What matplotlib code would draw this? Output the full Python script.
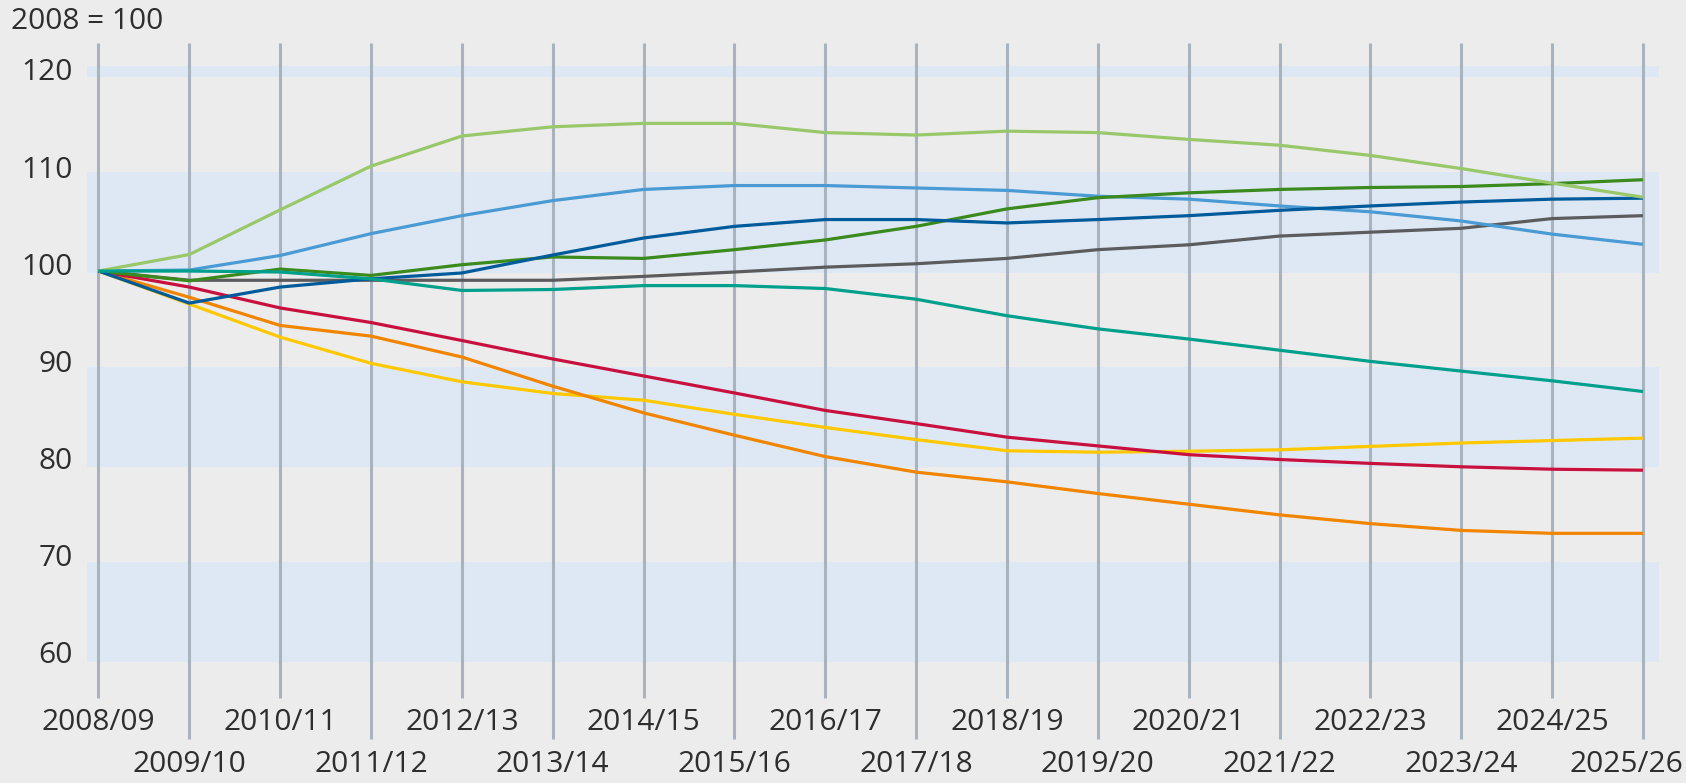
import matplotlib
matplotlib.use("Agg")
import matplotlib.pyplot as plt

years = ["2008/09", "2009/10", "2010/11", "2011/12", "2012/13", "2013/14", "2014/15",
         "2015/16", "2016/17", "2017/18", "2018/19", "2019/20", "2020/21", "2021/22",
         "2022/23", "2023/24", "2024/25", "2025/26"]
y_ticks = [60, 70, 80, 90, 100, 110, 120]
band_ranges = [(59.8, 70.1), (79.8, 90.1), (99.8, 110.2), (120.0, 121.1)]

light_green = [100, 101.7, 106.3, 110.8, 113.9, 114.85, 115.2, 115.2, 114.25, 114.0,
               114.4, 114.25, 113.55, 112.95, 111.9, 110.55, 109.05, 107.6]
light_blue = [100, 100.1, 101.6, 103.85, 105.7, 107.25, 108.4, 108.8, 108.8, 108.55,
              108.3, 107.7, 107.4, 106.7, 106.1, 105.15, 103.8, 102.75]
dark_blue = [100, 96.7, 98.35, 99.2, 99.8, 101.65, 103.4, 104.6, 105.3, 105.3,
             104.95, 105.3, 105.7, 106.25, 106.7, 107.1, 107.4, 107.5]
dark_green = [100, 99.0, 100.2, 99.55, 100.65, 101.45, 101.3, 102.2, 103.2, 104.6,
              106.4, 107.55, 108.05, 108.4, 108.6, 108.7, 109.0, 109.4]
gray = [100, 99.05, 99.05, 99.05, 99.05, 99.05, 99.45, 99.9, 100.4, 100.75,
        101.3, 102.2, 102.7, 103.6, 104.0, 104.4, 105.4, 105.7]
teal = [100, 100.0, 99.9, 99.2, 98.0, 98.1, 98.5, 98.5, 98.2, 97.1,
        95.4, 94.05, 93.0, 91.85, 90.7, 89.7, 88.7, 87.6]
crimson = [100, 98.35, 96.2, 94.7, 92.85, 90.95, 89.2, 87.45, 85.65, 84.3,
           82.9, 82.0, 81.1, 80.6, 80.2, 79.85, 79.6, 79.5]
orange = [100, 97.3, 94.4, 93.3, 91.15, 88.15, 85.4, 83.1, 80.9, 79.3,
          78.3, 77.1, 76.0, 74.9, 74.0, 73.3, 73.0, 73.0]
yellow = [100, 96.6, 93.2, 90.5, 88.6, 87.4, 86.7, 85.25, 83.9, 82.65,
          81.5, 81.35, 81.45, 81.6, 81.95, 82.3, 82.55, 82.8]

series = [
    (gray, "#5c5c5e"),
    (yellow, "#ffc800"),
    (orange, "#f28500"),
    (crimson, "#c8103f"),
    (light_blue, "#4a9ad4"),
    (dark_green, "#3b8a1e"),
    (dark_blue, "#005b9b"),
    (light_green, "#98c86a"),
    (teal, "#00a08c"),
]

plt.rcParams['font.family'] = ['Open Sans', 'DejaVu Sans']
text_color = "#2e2e2e"
fs = 21.5

fig = plt.figure(figsize=(16.86, 7.83), dpi=100)
fig.patch.set_facecolor("#ececec")
ax = fig.add_axes([0, 0, 1, 1])
ax.set_facecolor("#ececec")
ax.set_xlim(-1.084, 17.474)
ax.set_ylim(47.3, 127.9)
ax.axis("off")

x = list(range(len(years)))

for lo, hi in band_ranges:
    ax.fill_between([-0.125, 17.18], [lo, lo], [hi, hi], color="#dee8f4", lw=0, zorder=0)

for i in x:
    bottom = 56.1 if i % 2 == 0 else 51.8
    ax.vlines(i, bottom, 123.5, color="#a8b3bd", lw=2.2, zorder=1)

for vals, col in series:
    ax.plot(x, vals, color=col, lw=2.3, solid_joinstyle="round",
            solid_capstyle="butt", zorder=3)

last = len(years) - 1
for i, lab in enumerate(years):
    yy = 53.55 if i % 2 == 0 else 49.2
    if i == last:
        ax.text(17.44, yy, lab, ha="right", va="center", fontsize=fs, color=text_color)
    else:
        ax.text(i, yy, lab, ha="center", va="center", fontsize=fs, color=text_color)

for t in y_ticks:
    ax.text(-0.28, t + 0.4, str(t), ha="right", va="center", fontsize=fs, color=text_color)

ax.text(-0.96, 125.7, "2008 = 100", ha="left", va="center", fontsize=fs, color=text_color)

fig.savefig("out.png", dpi=100, facecolor=fig.get_facecolor())
